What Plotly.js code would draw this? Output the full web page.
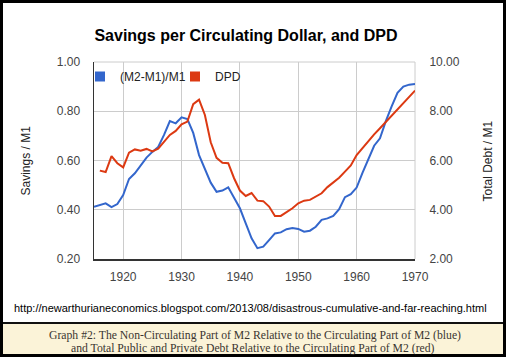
<!DOCTYPE html>
<html><head><meta charset="utf-8">
<script src="https://cdn.plot.ly/plotly-3.0.1.min.js"></script>
<style>html,body{margin:0;padding:0;background:#fff}#chart{width:506px;height:357px}</style>
</head><body><div id="chart"></div>
<script>
const blueYears = [1915,1916,1917,1918,1919,1920,1921,1922,1923,1924,1925,1926,1927,1928,1929,1930,1931,1932,1933,1934,1935,1936,1937,1938,1939,1940,1941,1942,1943,1944,1945,1946,1947,1948,1949,1950,1951,1952,1953,1954,1955,1956,1957,1958,1959,1960,1961,1962,1963,1964,1965,1966,1967,1968,1969,1970];
const blueValues = [0.412,0.419,0.426,0.411,0.423,0.460,0.525,0.548,0.578,0.612,0.635,0.655,0.704,0.760,0.751,0.775,0.768,0.712,0.622,0.568,0.510,0.473,0.478,0.491,0.448,0.406,0.345,0.284,0.244,0.250,0.277,0.304,0.308,0.321,0.326,0.322,0.311,0.315,0.331,0.359,0.365,0.375,0.402,0.451,0.463,0.490,0.550,0.607,0.660,0.690,0.760,0.820,0.875,0.900,0.908,0.911];
const redYears = [1916,1917,1918,1919,1920,1921,1922,1923,1924,1925,1926,1927,1928,1929,1930,1931,1932,1933,1934,1935,1936,1937,1938,1939,1940,1941,1942,1943,1944,1945,1946,1947,1948,1949,1950,1951,1952,1953,1954,1955,1956,1957,1958,1959,1960,1961,1962,1963,1964,1965,1966,1967,1968,1969,1970];
const redValues = [5.59,5.53,6.18,5.89,5.72,6.32,6.45,6.40,6.47,6.37,6.48,6.78,7.04,7.20,7.47,7.58,8.29,8.47,7.85,6.74,6.11,5.91,5.89,5.28,4.78,4.56,4.68,4.37,4.35,4.13,3.75,3.75,3.90,4.06,4.26,4.37,4.40,4.53,4.67,4.92,5.12,5.30,5.55,5.80,6.22,6.50,6.80,7.06,7.31,7.56,7.80,8.07,8.32,8.58,8.84];
const seriesNames = ["(M2-M1)/M1", "DPD"];
const leftTicks = [0.2,0.4,0.6,0.8,1.0];
const rightTicks = [2,4,6,8,10];
const xTicks = [1920,1930,1940,1950,1960,1970];
const xTickLabels = ["1920","1930","1940","1950","1960","1970"];
const titleText = "Savings per Circulating Dollar, and DPD";
const leftTitle = "Savings / M1";
const rightTitle = "Total Debt / M1";
const urlText = "http://newarthurianeconomics.blogspot.com/2013/08/disastrous-cumulative-and-far-reaching.html";
const caption1 = "Graph #2: The Non-Circulating Part of M2 Relative to the Circulating Part of M2 (blue)";
const caption2 = "and Total Public and Private Debt Relative to the Circulating Part of M2 (red)";

const BLUE = "#3366CC", RED = "#DC3912";
const FONT = "Liberation Sans, Arial, sans-serif";
const SERIF = "Liberation Serif, DejaVu Serif, serif";
// pixel -> paper helpers for decorations (plot area spans x 94..415, y 62..259)
const L = 94, R = 415, T = 62, B = 259;
const PX = p => (p - L) / (R - L);
const PY = p => (B - p) / (B - T);

const traces = [
  {x: blueYears, y: blueValues, type: "scatter", mode: "lines", name: seriesNames[0],
   line: {color: BLUE, width: 2}, showlegend: false, yaxis: "y", hoverinfo: "skip"},
  {x: redYears, y: redValues, type: "scatter", mode: "lines", name: seriesNames[1],
   line: {color: RED, width: 2}, showlegend: false, yaxis: "y2", hoverinfo: "skip"},
  {x: [null], y: [null], type: "scatter", mode: "markers", name: seriesNames[0],
   marker: {symbol: "square", size: 10, color: BLUE}, showlegend: true},
  {x: [null], y: [null], type: "scatter", mode: "markers", name: seriesNames[1],
   marker: {symbol: "square", size: 10, color: RED}, showlegend: true}
];

const layout = {
  width: 506, height: 357,
  margin: {l: L, r: 506 - R, t: T, b: 357 - B, pad: 0},
  paper_bgcolor: "#fff", plot_bgcolor: "#fff",
  font: {family: FONT, size: 12, color: "#222"},
  title: {text: "<b>" + titleText + "</b>", font: {family: FONT, size: 16, color: "#000"},
          xref: "container", yref: "container", x: 246/506, xanchor: "center", y: 1 - 35/357, yanchor: "middle"},
  showlegend: true,
  legend: {orientation: "h", x: PX(80), xanchor: "left", y: PY(62), yanchor: "top",
           entrywidth: 50, entrywidthmode: "pixels",
           bgcolor: "rgba(0,0,0,0)", font: {family: FONT, size: 12, color: "#222"}, traceorder: "normal"},
  xaxis: {range: [1915, 1970], tickvals: xTicks, ticktext: xTickLabels, showgrid: true, gridcolor: "#ccc", gridwidth: 1,
          showline: true, linecolor: "#333", linewidth: 2, zeroline: false, ticks: "outside", ticklen: 6,
          tickcolor: "rgba(0,0,0,0)", tickfont: {family: FONT, size: 12, color: "#444"}, fixedrange: true},
  yaxis: {range: [0.2, 1.0], tickvals: leftTicks, tickformat: ".2f", showgrid: true, gridcolor: "#ccc", gridwidth: 1,
          showline: true, linecolor: "#333", linewidth: 1.5, zeroline: false, ticks: "outside", ticklen: 10,
          tickcolor: "rgba(0,0,0,0)", tickfont: {family: FONT, size: 12, color: "#444"}, fixedrange: true},
  yaxis2: {range: [2, 10], tickvals: rightTicks, tickformat: ".2f", overlaying: "y", side: "right", showgrid: false,
           showline: false, zeroline: false, ticks: "outside", ticklen: 11, tickcolor: "rgba(0,0,0,0)",
           tickfont: {family: FONT, size: 12, color: "#444"}, fixedrange: true},
  shapes: [
    {type: "rect", xref: "paper", yref: "paper", x0: PX(3), x1: PX(503), y0: PY(354), y1: PY(324),
     fillcolor: "#FBF3D8", line: {width: 0}, layer: "below"},
    {type: "line", xref: "paper", yref: "paper", x0: 0, x1: 1, y0: 1, y1: 1,
     line: {color: "#ccc", width: 1}, layer: "below"},
    {type: "line", xref: "paper", yref: "paper", x0: 1, x1: 1, y0: 0, y1: 1,
     line: {color: "#ccc", width: 1}, layer: "below"},
    {type: "line", xref: "paper", yref: "paper", x0: PX(0), x1: PX(506), y0: PY(323), y1: PY(323),
     line: {color: "#111", width: 2}},
    {type: "rect", xref: "paper", yref: "paper", x0: PX(1.5), x1: PX(504.5), y0: PY(355.5), y1: PY(1.5),
     fillcolor: "rgba(0,0,0,0)", line: {color: "#000", width: 3}}
  ],
  annotations: [
    {text: leftTitle, xref: "paper", yref: "paper", x: PX(25), y: PY(160.5), textangle: -90, showarrow: false,
     xanchor: "center", yanchor: "middle", font: {family: FONT, size: 12, color: "#222"}},
    {text: rightTitle, xref: "paper", yref: "paper", x: PX(487), y: PY(161.5), textangle: -90, showarrow: false,
     xanchor: "center", yanchor: "middle", font: {family: FONT, size: 12, color: "#222"}},
    {text: urlText, xref: "paper", yref: "paper", x: PX(250), y: PY(307.5), showarrow: false,
     xanchor: "center", yanchor: "middle", font: {family: FONT, size: 11, color: "#000"}},
    {text: caption1, xref: "paper", yref: "paper", x: PX(255), y: PY(335), showarrow: false,
     xanchor: "center", yanchor: "middle", font: {family: SERIF, size: 11.7, color: "#3a3530"}},
    {text: caption2, xref: "paper", yref: "paper", x: PX(253), y: PY(348.5), showarrow: false,
     xanchor: "center", yanchor: "middle", font: {family: SERIF, size: 11.7, color: "#3a3530"}}
  ]
};

Plotly.newPlot("chart", traces, layout, {staticPlot: true, displayModeBar: false});
</script>
</body></html>
